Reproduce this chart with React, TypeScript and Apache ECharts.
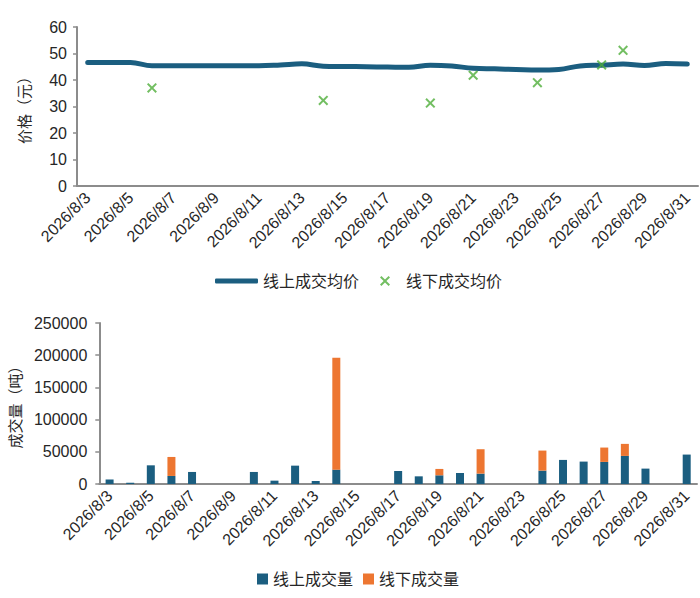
import React, { useEffect, useRef } from 'react';
import * as echarts from 'echarts';

const dates = [
  '2026/8/3', '2026/8/4', '2026/8/5', '2026/8/6', '2026/8/7', '2026/8/8', '2026/8/9',
  '2026/8/10', '2026/8/11', '2026/8/12', '2026/8/13', '2026/8/14', '2026/8/15', '2026/8/16',
  '2026/8/17', '2026/8/18', '2026/8/19', '2026/8/20', '2026/8/21', '2026/8/22', '2026/8/23',
  '2026/8/24', '2026/8/25', '2026/8/26', '2026/8/27', '2026/8/28', '2026/8/29', '2026/8/30',
  '2026/8/31',
];

const onlinePrice = [
  46.6, 46.6, 46.6, 45.4, 45.4, 45.4, 45.4,
  45.4, 45.4, 45.7, 46.1, 45.2, 45.1, 45.0,
  44.9, 44.8, 45.6, 45.3, 44.4, 44.2, 44.0,
  43.8, 44.0, 45.3, 45.6, 46.0, 45.5, 46.2,
  46.0,
];

const offlinePrice = [
  null, null, null, 37.0, null, null, null,
  null, null, null, null, 32.3, null, null,
  null, null, 31.3, null, 41.8, null, null,
  39.0, null, null, 45.7, 51.2, null, null,
  null,
];

const onlineVolume = [
  7000, 2000, 29000, 12500, 18700, null, null,
  18700, 5200, 28500, 4700, 22300, null, null,
  20200, 11900, 13500, 17100, 16100, null, null,
  20800, 37400, 34800, 34300, 43600, 23900, null,
  45700,
];

const offlineVolume = [
  null, null, null, 29500, null, null, null,
  null, null, null, null, 173700, null, null,
  null, null, 9900, null, 37900, null, null,
  31100, null, null, 22300, 18700, null, null,
  null,
];

const priceTicks = { min: 0, max: 60, interval: 10 };
const volumeTicks = { min: 0, max: 250000, interval: 50000 };

const BLUE = '#1b5e80';
const ORANGE = '#ed7631';
const GREEN = '#4fae3a';
const AXIS = '#8c8c8c';
const TEXT = '#262626';
const FONT = "'Liberation Sans', 'Noto Sans CJK SC', sans-serif";

const CROSS = 'path://M0,1.4L1.4,0L5,3.6L8.6,0L10,1.4L6.4,5L10,8.6L8.6,10L5,6.4L1.4,10L0,8.6L3.6,5Z';

export default function App() {
  const ref = useRef<HTMLDivElement>(null);

  useEffect(() => {
    if (!ref.current) return;
    const chart = echarts.init(ref.current, undefined, { renderer: 'svg' });
    const xLabel = {
      interval: 1,
      rotate: 45,
      fontSize: 16,
      color: TEXT,
      fontFamily: FONT,
      margin: 9,
    };
    const yLabel = {
      fontSize: 16,
      color: TEXT,
      fontFamily: FONT,
      formatter: (v: number) => String(v),
    };
    const legendText = { fontSize: 16, color: TEXT, fontFamily: FONT };
    chart.setOption({
      animation: false,
      textStyle: { fontFamily: FONT },
      grid: [
        { left: 77, right: 2, top: 27, height: 159 },
        { left: 96, right: 3, top: 323, height: 161 },
      ],
      legend: [
        {
          left: 210,
          top: 268,
          itemWidth: 43,
          itemHeight: 5,
          icon: 'roundRect',
          textStyle: legendText,
          data: ['线上成交均价'],
        },
        {
          left: 375,
          top: 268,
          itemWidth: 10,
          itemHeight: 10,
          textStyle: { ...legendText, padding: [0, 0, 0, 11] },
          data: ['线下成交均价'],
        },
        {
          left: 252,
          top: 566,
          itemWidth: 11,
          itemHeight: 11,
          itemGap: 10,
          icon: 'rect',
          textStyle: legendText,
          data: ['线上成交量', '线下成交量'],
        },
      ],
      xAxis: [
        {
          type: 'category',
          gridIndex: 0,
          data: dates,
          boundaryGap: true,
          axisLine: { lineStyle: { color: AXIS, width: 2 } },
          axisTick: { show: false },
          axisLabel: xLabel,
        },
        {
          type: 'category',
          gridIndex: 1,
          data: dates,
          boundaryGap: true,
          axisLine: { lineStyle: { color: AXIS, width: 2 } },
          axisTick: { show: false },
          axisLabel: xLabel,
        },
      ],
      yAxis: [
        {
          type: 'value',
          gridIndex: 0,
          ...priceTicks,
          name: '价格（元）',
          nameLocation: 'middle',
          nameGap: 45,
          nameTextStyle: { fontSize: 15, color: TEXT, fontFamily: FONT },
          axisLine: { show: true, lineStyle: { color: AXIS, width: 2 } },
          axisTick: { show: true, length: 4, lineStyle: { color: AXIS, width: 1.5 } },
          splitLine: { show: false },
          axisLabel: { ...yLabel, margin: 10 },
        },
        {
          type: 'value',
          gridIndex: 1,
          ...volumeTicks,
          name: '成交量（吨）',
          nameLocation: 'middle',
          nameGap: 74,
          nameTextStyle: { fontSize: 15, color: TEXT, fontFamily: FONT },
          axisLine: { show: true, lineStyle: { color: AXIS, width: 2 } },
          axisTick: { show: true, length: 4, lineStyle: { color: AXIS, width: 1.5 } },
          splitLine: { show: false },
          axisLabel: { ...yLabel, margin: 12 },
        },
      ],
      series: [
        {
          name: '线上成交均价',
          type: 'line',
          xAxisIndex: 0,
          yAxisIndex: 0,
          data: onlinePrice,
          smooth: 0.4,
          symbol: 'none',
          lineStyle: { color: BLUE, width: 5, cap: 'round' },
          itemStyle: { color: BLUE },
          z: 2,
        },
        {
          name: '线下成交均价',
          type: 'scatter',
          xAxisIndex: 0,
          yAxisIndex: 0,
          data: offlinePrice,
          symbol: CROSS,
          symbolSize: 10,
          itemStyle: { color: GREEN },
          z: 3,
        },
        {
          name: '线上成交量',
          type: 'bar',
          xAxisIndex: 1,
          yAxisIndex: 1,
          stack: 'vol',
          data: onlineVolume,
          barWidth: 8,
          itemStyle: { color: BLUE },
        },
        {
          name: '线下成交量',
          type: 'bar',
          xAxisIndex: 1,
          yAxisIndex: 1,
          stack: 'vol',
          data: offlineVolume,
          barWidth: 8,
          itemStyle: { color: ORANGE },
        },
      ],
    });
    return () => chart.dispose();
  }, []);

  return (
    <div
      ref={ref}
      style={{ position: 'fixed', left: 0, top: 0, width: 700, height: 598, background: '#fff' }}
    />
  );
}
